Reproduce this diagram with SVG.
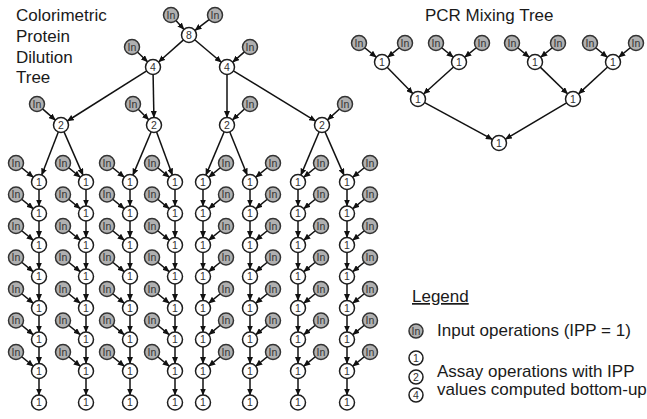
<svg xmlns="http://www.w3.org/2000/svg" width="647" height="419" viewBox="0 0 647 419">
<defs>
<style>
.op{fill:#fff;stroke:#1e1e1e;stroke-width:1.5}
.in{fill:#b0b0b0;stroke:#333;stroke-width:1.5}
.t{font-family:"Liberation Sans",Arial,sans-serif;font-size:10.5px;fill:#333;text-anchor:middle}
.lbl{font-family:"Liberation Sans",Arial,sans-serif;font-size:17px;fill:#1a1a1a}
.e path{fill:none;stroke:#111;stroke-width:1.5;marker-end:url(#ah)}
</style>
<marker id="ah" viewBox="0 0 7 6" refX="6.5" refY="3" markerWidth="7" markerHeight="6" markerUnits="userSpaceOnUse" orient="auto"><path d="M0,0L7,3L0,6z" fill="#111"/></marker>
</defs>
<rect width="647" height="419" fill="#fff"/>
<g id="labels">
<text class="lbl" x="16" y="21">Colorimetric</text>
<text class="lbl" x="16" y="42">Protein</text>
<text class="lbl" x="16" y="63">Dilution</text>
<text class="lbl" x="16" y="83">Tree</text>
<text class="lbl" x="425" y="21">PCR Mixing Tree</text>
</g>
<g id="connectors" class="e">
<path d="M175.7 20.2L184 29.4"/>
<path d="M209.4 19.3L195 30.4"/>
<path d="M183.8 39.6L158.6 62"/>
<path d="M194.4 39.5L221.3 62.2"/>
<path d="M137.1 51.8L147.6 61.8"/>
<path d="M244.7 51.6L232.7 62.1"/>
<path d="M147.1 70.7L67.3 121"/>
<path d="M153.1 74L153.9 117.5"/>
<path d="M227 74L227 117.5"/>
<path d="M233 70.6L315.6 121.1"/>
<path d="M42.3 108.6L55.4 120.1"/>
<path d="M138 109L148.7 119.7"/>
<path d="M244.8 108.7L232.5 119.9"/>
<path d="M339.8 108.7L327.5 119.9"/>
<path d="M58.5 131.5L41.7 175"/>
<path d="M63.8 131.4L83 175.1"/>
<path d="M151.3 131.5L132.9 175.1"/>
<path d="M156.4 131.6L172.4 175"/>
<path d="M224.3 131.5L205.9 175.1"/>
<path d="M229.6 131.5L247.2 175"/>
<path d="M319.3 131.5L300.9 175.1"/>
<path d="M324.8 131.4L344 175.1"/>
<!-- column A -->
<path d="M21.4 167.5L33.2 177.2"/><path d="M21.4 199L33.2 208.7"/><path d="M21.4 230.5L33.2 240.2"/><path d="M21.4 262L33.2 271.7"/><path d="M21.4 293.5L33.2 303.2"/><path d="M21.4 325L33.2 334.7"/><path d="M21.4 356.5L33.2 366.2"/>
<path d="M39 189V206"/><path d="M39 220.5V237.5"/><path d="M39 252V269"/><path d="M39 283.5V300.5"/><path d="M39 315V332"/><path d="M39 346.5V363.5"/><path d="M39 378V395"/>
<!-- column B -->
<path d="M68.4 167.5L80.2 177.2"/><path d="M68.4 199L80.2 208.7"/><path d="M68.4 230.5L80.2 240.2"/><path d="M68.4 262L80.2 271.7"/><path d="M68.4 293.5L80.2 303.2"/><path d="M68.4 325L80.2 334.7"/><path d="M68.4 356.5L80.2 366.2"/>
<path d="M86 189V206"/><path d="M86 220.5V237.5"/><path d="M86 252V269"/><path d="M86 283.5V300.5"/><path d="M86 315V332"/><path d="M86 346.5V363.5"/><path d="M86 378V395"/>
<!-- column C -->
<path d="M112.4 167.5L124.2 177.2"/><path d="M112.4 199L124.2 208.7"/><path d="M112.4 230.5L124.2 240.2"/><path d="M112.4 262L124.2 271.7"/><path d="M112.4 293.5L124.2 303.2"/><path d="M112.4 325L124.2 334.7"/><path d="M112.4 356.5L124.2 366.2"/>
<path d="M130 189V206"/><path d="M130 220.5V237.5"/><path d="M130 252V269"/><path d="M130 283.5V300.5"/><path d="M130 315V332"/><path d="M130 346.5V363.5"/><path d="M130 378V395"/>
<!-- column D -->
<path d="M157.4 167.5L169.2 177.2"/><path d="M157.4 199L169.2 208.7"/><path d="M157.4 230.5L169.2 240.2"/><path d="M157.4 262L169.2 271.7"/><path d="M157.4 293.5L169.2 303.2"/><path d="M157.4 325L169.2 334.7"/><path d="M157.4 356.5L169.2 366.2"/>
<path d="M175 189V206"/><path d="M175 220.5V237.5"/><path d="M175 252V269"/><path d="M175 283.5V300.5"/><path d="M175 315V332"/><path d="M175 346.5V363.5"/><path d="M175 378V395"/>
<!-- column E -->
<path d="M220.6 167.5L208.8 177.2"/><path d="M220.6 199L208.8 208.7"/><path d="M220.6 230.5L208.8 240.2"/><path d="M220.6 262L208.8 271.7"/><path d="M220.6 293.5L208.8 303.2"/><path d="M220.6 325L208.8 334.7"/><path d="M220.6 356.5L208.8 366.2"/>
<path d="M203 189V206"/><path d="M203 220.5V237.5"/><path d="M203 252V269"/><path d="M203 283.5V300.5"/><path d="M203 315V332"/><path d="M203 346.5V363.5"/><path d="M203 378V395"/>
<!-- column F -->
<path d="M267.6 167.5L255.8 177.2"/><path d="M267.6 199L255.8 208.7"/><path d="M267.6 230.5L255.8 240.2"/><path d="M267.6 262L255.8 271.7"/><path d="M267.6 293.5L255.8 303.2"/><path d="M267.6 325L255.8 334.7"/><path d="M267.6 356.5L255.8 366.2"/>
<path d="M250 189V206"/><path d="M250 220.5V237.5"/><path d="M250 252V269"/><path d="M250 283.5V300.5"/><path d="M250 315V332"/><path d="M250 346.5V363.5"/><path d="M250 378V395"/>
<!-- column G -->
<path d="M315.6 167.5L303.8 177.2"/><path d="M315.6 199L303.8 208.7"/><path d="M315.6 230.5L303.8 240.2"/><path d="M315.6 262L303.8 271.7"/><path d="M315.6 293.5L303.8 303.2"/><path d="M315.6 325L303.8 334.7"/><path d="M315.6 356.5L303.8 366.2"/>
<path d="M298 189V206"/><path d="M298 220.5V237.5"/><path d="M298 252V269"/><path d="M298 283.5V300.5"/><path d="M298 315V332"/><path d="M298 346.5V363.5"/><path d="M298 378V395"/>
<!-- column H -->
<path d="M364.6 167.5L352.8 177.2"/><path d="M364.6 199L352.8 208.7"/><path d="M364.6 230.5L352.8 240.2"/><path d="M364.6 262L352.8 271.7"/><path d="M364.6 293.5L352.8 303.2"/><path d="M364.6 325L352.8 334.7"/><path d="M364.6 356.5L352.8 366.2"/>
<path d="M347 189V206"/><path d="M347 220.5V237.5"/><path d="M347 252V269"/><path d="M347 283.5V300.5"/><path d="M347 315V332"/><path d="M347 346.5V363.5"/><path d="M347 378V395"/>
<!-- PCR -->
<path d="M364.4 47.5L376.2 57.2"/><path d="M399.6 47.5L387.8 57.2"/>
<path d="M441.4 47.5L453.2 57.2"/><path d="M476.6 47.5L464.8 57.2"/>
<path d="M517.4 47.5L529.2 57.2"/><path d="M552.6 47.5L540.8 57.2"/>
<path d="M595.4 47.5L607.2 57.2"/><path d="M630.6 47.5L618.8 57.2"/>
<path d="M386.9 67L412.8 93.6"/><path d="M453.8 66.7L423.6 94"/>
<path d="M540 66.9L567.6 93.8"/><path d="M607.9 66.8L578.5 93.9"/>
<path d="M424.2 102.3L492.4 139.4"/><path d="M567 102.6L505.4 139.2"/>
</g>
<g id="top-nodes">
<g id="in8a"><circle class="in" cx="171" cy="15" r="7.5"/><text class="t" x="171" y="18.7">In</text></g>
<g id="in8b"><circle class="in" cx="215" cy="15" r="7.5"/><text class="t" x="215" y="18.7">In</text></g>
<g id="n8"><circle class="op" cx="189" cy="35" r="7.5"/><text class="t" x="189" y="38.7">8</text></g>
<g id="in4a"><circle class="in" cx="132" cy="47" r="7.5"/><text class="t" x="132" y="50.7">In</text></g>
<g id="in4b"><circle class="in" cx="250" cy="47" r="7.5"/><text class="t" x="250" y="50.7">In</text></g>
<g id="n4a"><circle class="op" cx="153" cy="67" r="7.5"/><text class="t" x="153" y="70.7">4</text></g>
<g id="n4b"><circle class="op" cx="227" cy="67" r="7.5"/><text class="t" x="227" y="70.7">4</text></g>
<g id="in2a"><circle class="in" cx="37" cy="104" r="7.5"/><text class="t" x="37" y="107.7">In</text></g>
<g id="in2b"><circle class="in" cx="133" cy="104" r="7.5"/><text class="t" x="133" y="107.7">In</text></g>
<g id="in2c"><circle class="in" cx="250" cy="104" r="7.5"/><text class="t" x="250" y="107.7">In</text></g>
<g id="in2d"><circle class="in" cx="345" cy="104" r="7.5"/><text class="t" x="345" y="107.7">In</text></g>
<g id="n2a"><circle class="op" cx="61" cy="125" r="7.5"/><text class="t" x="61" y="128.7">2</text></g>
<g id="n2b"><circle class="op" cx="154" cy="125" r="7.5"/><text class="t" x="154" y="128.7">2</text></g>
<g id="n2c"><circle class="op" cx="227" cy="125" r="7.5"/><text class="t" x="227" y="128.7">2</text></g>
<g id="n2d"><circle class="op" cx="322" cy="125" r="7.5"/><text class="t" x="322" y="128.7">2</text></g>
</g>
<g id="colA">
<g id="A-i0"><circle class="in" cx="16" cy="163" r="7.5"/><text class="t" x="16" y="166.7">In</text></g>
<g id="A-i1"><circle class="in" cx="16" cy="194.5" r="7.5"/><text class="t" x="16" y="198.2">In</text></g>
<g id="A-i2"><circle class="in" cx="16" cy="226" r="7.5"/><text class="t" x="16" y="229.7">In</text></g>
<g id="A-i3"><circle class="in" cx="16" cy="257.5" r="7.5"/><text class="t" x="16" y="261.2">In</text></g>
<g id="A-i4"><circle class="in" cx="16" cy="289" r="7.5"/><text class="t" x="16" y="292.7">In</text></g>
<g id="A-i5"><circle class="in" cx="16" cy="320.5" r="7.5"/><text class="t" x="16" y="324.2">In</text></g>
<g id="A-i6"><circle class="in" cx="16" cy="352" r="7.5"/><text class="t" x="16" y="355.7">In</text></g>
<g id="A-n0"><circle class="op" cx="39" cy="182" r="7.5"/><text class="t" x="39" y="185.7">1</text></g>
<g id="A-n1"><circle class="op" cx="39" cy="213.5" r="7.5"/><text class="t" x="39" y="217.2">1</text></g>
<g id="A-n2"><circle class="op" cx="39" cy="245" r="7.5"/><text class="t" x="39" y="248.7">1</text></g>
<g id="A-n3"><circle class="op" cx="39" cy="276.5" r="7.5"/><text class="t" x="39" y="280.2">1</text></g>
<g id="A-n4"><circle class="op" cx="39" cy="308" r="7.5"/><text class="t" x="39" y="311.7">1</text></g>
<g id="A-n5"><circle class="op" cx="39" cy="339.5" r="7.5"/><text class="t" x="39" y="343.2">1</text></g>
<g id="A-n6"><circle class="op" cx="39" cy="371" r="7.5"/><text class="t" x="39" y="374.7">1</text></g>
<g id="A-n7"><circle class="op" cx="39" cy="402.5" r="7.5"/><text class="t" x="39" y="406.2">1</text></g>
</g>
<g id="colB">
<g id="B-i0"><circle class="in" cx="63" cy="163" r="7.5"/><text class="t" x="63" y="166.7">In</text></g>
<g id="B-i1"><circle class="in" cx="63" cy="194.5" r="7.5"/><text class="t" x="63" y="198.2">In</text></g>
<g id="B-i2"><circle class="in" cx="63" cy="226" r="7.5"/><text class="t" x="63" y="229.7">In</text></g>
<g id="B-i3"><circle class="in" cx="63" cy="257.5" r="7.5"/><text class="t" x="63" y="261.2">In</text></g>
<g id="B-i4"><circle class="in" cx="63" cy="289" r="7.5"/><text class="t" x="63" y="292.7">In</text></g>
<g id="B-i5"><circle class="in" cx="63" cy="320.5" r="7.5"/><text class="t" x="63" y="324.2">In</text></g>
<g id="B-i6"><circle class="in" cx="63" cy="352" r="7.5"/><text class="t" x="63" y="355.7">In</text></g>
<g id="B-n0"><circle class="op" cx="86" cy="182" r="7.5"/><text class="t" x="86" y="185.7">1</text></g>
<g id="B-n1"><circle class="op" cx="86" cy="213.5" r="7.5"/><text class="t" x="86" y="217.2">1</text></g>
<g id="B-n2"><circle class="op" cx="86" cy="245" r="7.5"/><text class="t" x="86" y="248.7">1</text></g>
<g id="B-n3"><circle class="op" cx="86" cy="276.5" r="7.5"/><text class="t" x="86" y="280.2">1</text></g>
<g id="B-n4"><circle class="op" cx="86" cy="308" r="7.5"/><text class="t" x="86" y="311.7">1</text></g>
<g id="B-n5"><circle class="op" cx="86" cy="339.5" r="7.5"/><text class="t" x="86" y="343.2">1</text></g>
<g id="B-n6"><circle class="op" cx="86" cy="371" r="7.5"/><text class="t" x="86" y="374.7">1</text></g>
<g id="B-n7"><circle class="op" cx="86" cy="402.5" r="7.5"/><text class="t" x="86" y="406.2">1</text></g>
</g>
<g id="colC">
<g id="C-i0"><circle class="in" cx="107" cy="163" r="7.5"/><text class="t" x="107" y="166.7">In</text></g>
<g id="C-i1"><circle class="in" cx="107" cy="194.5" r="7.5"/><text class="t" x="107" y="198.2">In</text></g>
<g id="C-i2"><circle class="in" cx="107" cy="226" r="7.5"/><text class="t" x="107" y="229.7">In</text></g>
<g id="C-i3"><circle class="in" cx="107" cy="257.5" r="7.5"/><text class="t" x="107" y="261.2">In</text></g>
<g id="C-i4"><circle class="in" cx="107" cy="289" r="7.5"/><text class="t" x="107" y="292.7">In</text></g>
<g id="C-i5"><circle class="in" cx="107" cy="320.5" r="7.5"/><text class="t" x="107" y="324.2">In</text></g>
<g id="C-i6"><circle class="in" cx="107" cy="352" r="7.5"/><text class="t" x="107" y="355.7">In</text></g>
<g id="C-n0"><circle class="op" cx="130" cy="182" r="7.5"/><text class="t" x="130" y="185.7">1</text></g>
<g id="C-n1"><circle class="op" cx="130" cy="213.5" r="7.5"/><text class="t" x="130" y="217.2">1</text></g>
<g id="C-n2"><circle class="op" cx="130" cy="245" r="7.5"/><text class="t" x="130" y="248.7">1</text></g>
<g id="C-n3"><circle class="op" cx="130" cy="276.5" r="7.5"/><text class="t" x="130" y="280.2">1</text></g>
<g id="C-n4"><circle class="op" cx="130" cy="308" r="7.5"/><text class="t" x="130" y="311.7">1</text></g>
<g id="C-n5"><circle class="op" cx="130" cy="339.5" r="7.5"/><text class="t" x="130" y="343.2">1</text></g>
<g id="C-n6"><circle class="op" cx="130" cy="371" r="7.5"/><text class="t" x="130" y="374.7">1</text></g>
<g id="C-n7"><circle class="op" cx="130" cy="402.5" r="7.5"/><text class="t" x="130" y="406.2">1</text></g>
</g>
<g id="colD">
<g id="D-i0"><circle class="in" cx="152" cy="163" r="7.5"/><text class="t" x="152" y="166.7">In</text></g>
<g id="D-i1"><circle class="in" cx="152" cy="194.5" r="7.5"/><text class="t" x="152" y="198.2">In</text></g>
<g id="D-i2"><circle class="in" cx="152" cy="226" r="7.5"/><text class="t" x="152" y="229.7">In</text></g>
<g id="D-i3"><circle class="in" cx="152" cy="257.5" r="7.5"/><text class="t" x="152" y="261.2">In</text></g>
<g id="D-i4"><circle class="in" cx="152" cy="289" r="7.5"/><text class="t" x="152" y="292.7">In</text></g>
<g id="D-i5"><circle class="in" cx="152" cy="320.5" r="7.5"/><text class="t" x="152" y="324.2">In</text></g>
<g id="D-i6"><circle class="in" cx="152" cy="352" r="7.5"/><text class="t" x="152" y="355.7">In</text></g>
<g id="D-n0"><circle class="op" cx="175" cy="182" r="7.5"/><text class="t" x="175" y="185.7">1</text></g>
<g id="D-n1"><circle class="op" cx="175" cy="213.5" r="7.5"/><text class="t" x="175" y="217.2">1</text></g>
<g id="D-n2"><circle class="op" cx="175" cy="245" r="7.5"/><text class="t" x="175" y="248.7">1</text></g>
<g id="D-n3"><circle class="op" cx="175" cy="276.5" r="7.5"/><text class="t" x="175" y="280.2">1</text></g>
<g id="D-n4"><circle class="op" cx="175" cy="308" r="7.5"/><text class="t" x="175" y="311.7">1</text></g>
<g id="D-n5"><circle class="op" cx="175" cy="339.5" r="7.5"/><text class="t" x="175" y="343.2">1</text></g>
<g id="D-n6"><circle class="op" cx="175" cy="371" r="7.5"/><text class="t" x="175" y="374.7">1</text></g>
<g id="D-n7"><circle class="op" cx="175" cy="402.5" r="7.5"/><text class="t" x="175" y="406.2">1</text></g>
</g>
<g id="colE">
<g id="E-i0"><circle class="in" cx="226" cy="163" r="7.5"/><text class="t" x="226" y="166.7">In</text></g>
<g id="E-i1"><circle class="in" cx="226" cy="194.5" r="7.5"/><text class="t" x="226" y="198.2">In</text></g>
<g id="E-i2"><circle class="in" cx="226" cy="226" r="7.5"/><text class="t" x="226" y="229.7">In</text></g>
<g id="E-i3"><circle class="in" cx="226" cy="257.5" r="7.5"/><text class="t" x="226" y="261.2">In</text></g>
<g id="E-i4"><circle class="in" cx="226" cy="289" r="7.5"/><text class="t" x="226" y="292.7">In</text></g>
<g id="E-i5"><circle class="in" cx="226" cy="320.5" r="7.5"/><text class="t" x="226" y="324.2">In</text></g>
<g id="E-i6"><circle class="in" cx="226" cy="352" r="7.5"/><text class="t" x="226" y="355.7">In</text></g>
<g id="E-n0"><circle class="op" cx="203" cy="182" r="7.5"/><text class="t" x="203" y="185.7">1</text></g>
<g id="E-n1"><circle class="op" cx="203" cy="213.5" r="7.5"/><text class="t" x="203" y="217.2">1</text></g>
<g id="E-n2"><circle class="op" cx="203" cy="245" r="7.5"/><text class="t" x="203" y="248.7">1</text></g>
<g id="E-n3"><circle class="op" cx="203" cy="276.5" r="7.5"/><text class="t" x="203" y="280.2">1</text></g>
<g id="E-n4"><circle class="op" cx="203" cy="308" r="7.5"/><text class="t" x="203" y="311.7">1</text></g>
<g id="E-n5"><circle class="op" cx="203" cy="339.5" r="7.5"/><text class="t" x="203" y="343.2">1</text></g>
<g id="E-n6"><circle class="op" cx="203" cy="371" r="7.5"/><text class="t" x="203" y="374.7">1</text></g>
<g id="E-n7"><circle class="op" cx="203" cy="402.5" r="7.5"/><text class="t" x="203" y="406.2">1</text></g>
</g>
<g id="colF">
<g id="F-i0"><circle class="in" cx="273" cy="163" r="7.5"/><text class="t" x="273" y="166.7">In</text></g>
<g id="F-i1"><circle class="in" cx="273" cy="194.5" r="7.5"/><text class="t" x="273" y="198.2">In</text></g>
<g id="F-i2"><circle class="in" cx="273" cy="226" r="7.5"/><text class="t" x="273" y="229.7">In</text></g>
<g id="F-i3"><circle class="in" cx="273" cy="257.5" r="7.5"/><text class="t" x="273" y="261.2">In</text></g>
<g id="F-i4"><circle class="in" cx="273" cy="289" r="7.5"/><text class="t" x="273" y="292.7">In</text></g>
<g id="F-i5"><circle class="in" cx="273" cy="320.5" r="7.5"/><text class="t" x="273" y="324.2">In</text></g>
<g id="F-i6"><circle class="in" cx="273" cy="352" r="7.5"/><text class="t" x="273" y="355.7">In</text></g>
<g id="F-n0"><circle class="op" cx="250" cy="182" r="7.5"/><text class="t" x="250" y="185.7">1</text></g>
<g id="F-n1"><circle class="op" cx="250" cy="213.5" r="7.5"/><text class="t" x="250" y="217.2">1</text></g>
<g id="F-n2"><circle class="op" cx="250" cy="245" r="7.5"/><text class="t" x="250" y="248.7">1</text></g>
<g id="F-n3"><circle class="op" cx="250" cy="276.5" r="7.5"/><text class="t" x="250" y="280.2">1</text></g>
<g id="F-n4"><circle class="op" cx="250" cy="308" r="7.5"/><text class="t" x="250" y="311.7">1</text></g>
<g id="F-n5"><circle class="op" cx="250" cy="339.5" r="7.5"/><text class="t" x="250" y="343.2">1</text></g>
<g id="F-n6"><circle class="op" cx="250" cy="371" r="7.5"/><text class="t" x="250" y="374.7">1</text></g>
<g id="F-n7"><circle class="op" cx="250" cy="402.5" r="7.5"/><text class="t" x="250" y="406.2">1</text></g>
</g>
<g id="colG">
<g id="G-i0"><circle class="in" cx="321" cy="163" r="7.5"/><text class="t" x="321" y="166.7">In</text></g>
<g id="G-i1"><circle class="in" cx="321" cy="194.5" r="7.5"/><text class="t" x="321" y="198.2">In</text></g>
<g id="G-i2"><circle class="in" cx="321" cy="226" r="7.5"/><text class="t" x="321" y="229.7">In</text></g>
<g id="G-i3"><circle class="in" cx="321" cy="257.5" r="7.5"/><text class="t" x="321" y="261.2">In</text></g>
<g id="G-i4"><circle class="in" cx="321" cy="289" r="7.5"/><text class="t" x="321" y="292.7">In</text></g>
<g id="G-i5"><circle class="in" cx="321" cy="320.5" r="7.5"/><text class="t" x="321" y="324.2">In</text></g>
<g id="G-i6"><circle class="in" cx="321" cy="352" r="7.5"/><text class="t" x="321" y="355.7">In</text></g>
<g id="G-n0"><circle class="op" cx="298" cy="182" r="7.5"/><text class="t" x="298" y="185.7">1</text></g>
<g id="G-n1"><circle class="op" cx="298" cy="213.5" r="7.5"/><text class="t" x="298" y="217.2">1</text></g>
<g id="G-n2"><circle class="op" cx="298" cy="245" r="7.5"/><text class="t" x="298" y="248.7">1</text></g>
<g id="G-n3"><circle class="op" cx="298" cy="276.5" r="7.5"/><text class="t" x="298" y="280.2">1</text></g>
<g id="G-n4"><circle class="op" cx="298" cy="308" r="7.5"/><text class="t" x="298" y="311.7">1</text></g>
<g id="G-n5"><circle class="op" cx="298" cy="339.5" r="7.5"/><text class="t" x="298" y="343.2">1</text></g>
<g id="G-n6"><circle class="op" cx="298" cy="371" r="7.5"/><text class="t" x="298" y="374.7">1</text></g>
<g id="G-n7"><circle class="op" cx="298" cy="402.5" r="7.5"/><text class="t" x="298" y="406.2">1</text></g>
</g>
<g id="colH">
<g id="H-i0"><circle class="in" cx="370" cy="163" r="7.5"/><text class="t" x="370" y="166.7">In</text></g>
<g id="H-i1"><circle class="in" cx="370" cy="194.5" r="7.5"/><text class="t" x="370" y="198.2">In</text></g>
<g id="H-i2"><circle class="in" cx="370" cy="226" r="7.5"/><text class="t" x="370" y="229.7">In</text></g>
<g id="H-i3"><circle class="in" cx="370" cy="257.5" r="7.5"/><text class="t" x="370" y="261.2">In</text></g>
<g id="H-i4"><circle class="in" cx="370" cy="289" r="7.5"/><text class="t" x="370" y="292.7">In</text></g>
<g id="H-i5"><circle class="in" cx="370" cy="320.5" r="7.5"/><text class="t" x="370" y="324.2">In</text></g>
<g id="H-i6"><circle class="in" cx="370" cy="352" r="7.5"/><text class="t" x="370" y="355.7">In</text></g>
<g id="H-n0"><circle class="op" cx="347" cy="182" r="7.5"/><text class="t" x="347" y="185.7">1</text></g>
<g id="H-n1"><circle class="op" cx="347" cy="213.5" r="7.5"/><text class="t" x="347" y="217.2">1</text></g>
<g id="H-n2"><circle class="op" cx="347" cy="245" r="7.5"/><text class="t" x="347" y="248.7">1</text></g>
<g id="H-n3"><circle class="op" cx="347" cy="276.5" r="7.5"/><text class="t" x="347" y="280.2">1</text></g>
<g id="H-n4"><circle class="op" cx="347" cy="308" r="7.5"/><text class="t" x="347" y="311.7">1</text></g>
<g id="H-n5"><circle class="op" cx="347" cy="339.5" r="7.5"/><text class="t" x="347" y="343.2">1</text></g>
<g id="H-n6"><circle class="op" cx="347" cy="371" r="7.5"/><text class="t" x="347" y="374.7">1</text></g>
<g id="H-n7"><circle class="op" cx="347" cy="402.5" r="7.5"/><text class="t" x="347" y="406.2">1</text></g>
</g>
<g id="pcr">
<g id="p-i0"><circle class="in" cx="359" cy="43" r="7.5"/><text class="t" x="359" y="46.7">In</text></g>
<g id="p-i1"><circle class="in" cx="405" cy="43" r="7.5"/><text class="t" x="405" y="46.7">In</text></g>
<g id="p-i2"><circle class="in" cx="436" cy="43" r="7.5"/><text class="t" x="436" y="46.7">In</text></g>
<g id="p-i3"><circle class="in" cx="482" cy="43" r="7.5"/><text class="t" x="482" y="46.7">In</text></g>
<g id="p-i4"><circle class="in" cx="512" cy="43" r="7.5"/><text class="t" x="512" y="46.7">In</text></g>
<g id="p-i5"><circle class="in" cx="558" cy="43" r="7.5"/><text class="t" x="558" y="46.7">In</text></g>
<g id="p-i6"><circle class="in" cx="590" cy="43" r="7.5"/><text class="t" x="590" y="46.7">In</text></g>
<g id="p-i7"><circle class="in" cx="636" cy="43" r="7.5"/><text class="t" x="636" y="46.7">In</text></g>
<g id="p-a0"><circle class="op" cx="382" cy="62" r="7.5"/><text class="t" x="382" y="65.7">1</text></g>
<g id="p-a1"><circle class="op" cx="459" cy="62" r="7.5"/><text class="t" x="459" y="65.7">1</text></g>
<g id="p-a2"><circle class="op" cx="535" cy="62" r="7.5"/><text class="t" x="535" y="65.7">1</text></g>
<g id="p-a3"><circle class="op" cx="613" cy="62" r="7.5"/><text class="t" x="613" y="65.7">1</text></g>
<g id="p-b0"><circle class="op" cx="418" cy="99" r="7.5"/><text class="t" x="418" y="102.7">1</text></g>
<g id="p-b1"><circle class="op" cx="573" cy="99" r="7.5"/><text class="t" x="573" y="102.7">1</text></g>
<g id="p-root"><circle class="op" cx="499" cy="143" r="7.5"/><text class="t" x="499" y="146.7">1</text></g>
</g>
<g id="legend">
<text class="lbl" x="412" y="302" text-decoration="underline">Legend</text>
<g id="leg-in"><circle class="in" cx="416" cy="331" r="7"/><text class="t" x="416" y="334.7">In</text></g>
<text class="lbl" x="437" y="336">Input operations (IPP = 1)</text>
<g id="leg-1"><circle class="op" cx="416" cy="358" r="7"/><text class="t" x="416" y="361.7">1</text></g>
<g id="leg-2"><circle class="op" cx="416" cy="377" r="7"/><text class="t" x="416" y="380.7">2</text></g>
<g id="leg-4"><circle class="op" cx="416" cy="395" r="7"/><text class="t" x="416" y="398.7">4</text></g>
<text class="lbl" x="437" y="377">Assay operations with IPP</text>
<text class="lbl" x="437" y="395">values computed bottom-up</text>
</g>
</svg>
